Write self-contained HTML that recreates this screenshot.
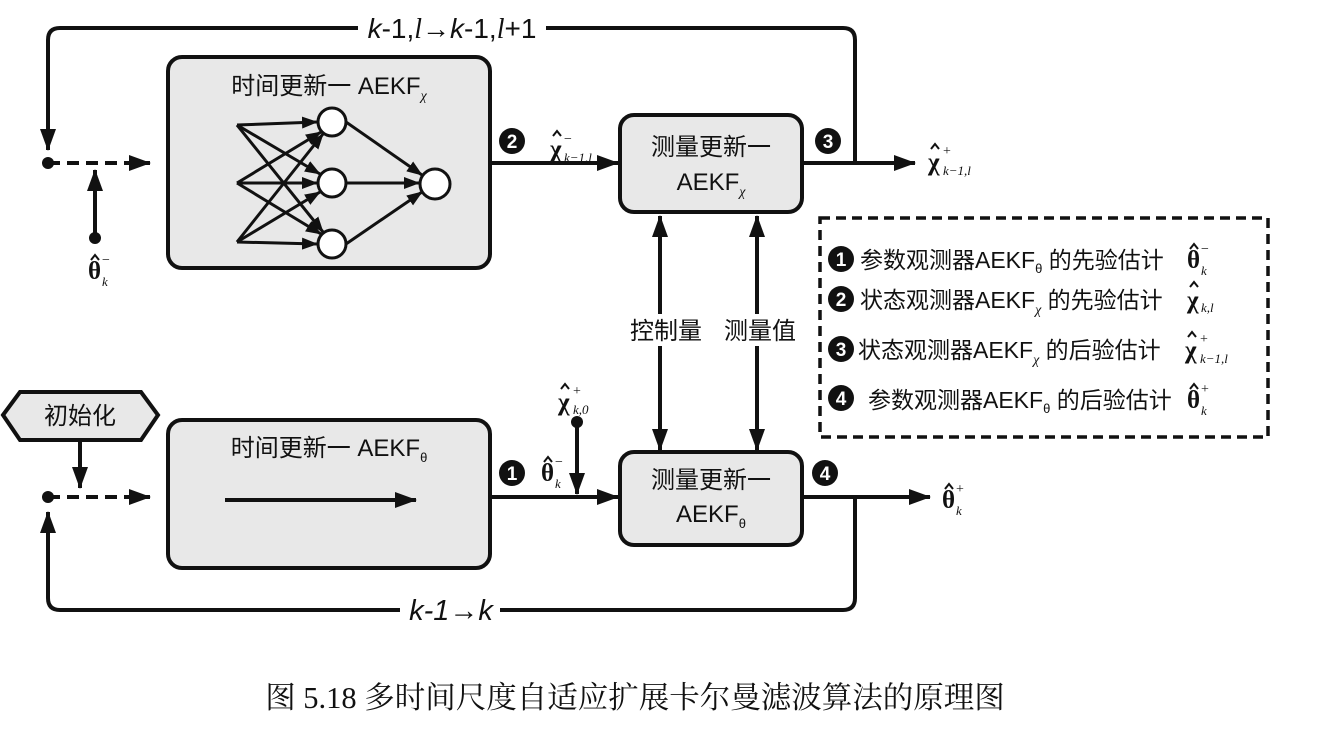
<!DOCTYPE html><html><head><meta charset="utf-8"><style>body{margin:0;background:#fff}svg{display:block}
text{font-family:"Liberation Sans","Noto Sans CJK SC",sans-serif;fill:#111}
.m{font-family:"Liberation Serif",serif;font-weight:bold;font-size:25px}
.s{font-family:"Liberation Serif",serif;font-style:italic;font-size:13px}
.p{font-family:"Liberation Serif",serif;font-size:14px}
</style></head><body>
<svg width="1329" height="730" viewBox="0 0 1329 730" xmlns="http://www.w3.org/2000/svg">
<defs>
<marker id="b" markerWidth="22" markerHeight="16" refX="21" refY="8" orient="auto-start-reverse" markerUnits="userSpaceOnUse" viewBox="0 0 22 16"><path d="M0,0L22,8L0,16z" fill="#111"/></marker>
<marker id="c" markerWidth="16" markerHeight="12" refX="15" refY="6" orient="auto" markerUnits="userSpaceOnUse" viewBox="0 0 16 12"><path d="M0,0L16,6L0,12z" fill="#111"/></marker></defs>
<g stroke="#111" stroke-width="4" fill="none">
<path d="M855,163V40Q855,28 843,28H60Q48,28 48,40V150" marker-end="url(#b)"/>
<path d="M855,497V598Q855,610 843,610H60Q48,610 48,598V512" marker-end="url(#b)"/>
<path d="M48,163H150" stroke-dasharray="12,7" marker-end="url(#b)"/>
<path d="M48,497H150" stroke-dasharray="12,7" marker-end="url(#b)"/>
<path d="M95,238V170" marker-end="url(#b)"/>
<path d="M490,163H618" marker-end="url(#b)"/>
<path d="M802,163H915" marker-end="url(#b)"/>
<path d="M490,497H618" marker-end="url(#b)"/>
<path d="M802,497H930" marker-end="url(#b)"/>
<path d="M577,422V494" marker-end="url(#b)"/>
<path d="M80,440V488" marker-end="url(#b)"/>
<path d="M660,216V450" marker-start="url(#b)" marker-end="url(#b)"/>
<path d="M757,216V450" marker-start="url(#b)" marker-end="url(#b)"/>
<rect x="168" y="57" width="322" height="211" rx="14" fill="#e8e8e8"/>
<rect x="168" y="420" width="322" height="148" rx="14" fill="#e8e8e8"/>
<rect x="620" y="115" width="182" height="97" rx="14" fill="#e8e8e8"/>
<rect x="620" y="452" width="182" height="93" rx="14" fill="#e8e8e8"/>
<path d="M3,415L20,392H141L158,415L141,440H20Z" fill="#e8e8e8"/>
<path d="M225,500H416" marker-end="url(#b)"/>
<rect x="820" y="218" width="448" height="219" stroke-dasharray="10,6" stroke-width="3.5"/>
</g>
<g stroke="#111" stroke-width="3" fill="none" marker-end="url(#c)">
<path d="M237,125L317,122"/><path d="M237,125L320,174"/><path d="M237,125L323,232"/>
<path d="M237,183L321,132"/><path d="M237,183L317,183"/><path d="M237,183L321,234"/>
<path d="M237,242L323,134"/><path d="M237,242L320,192"/><path d="M237,242L317,244"/>
<path d="M346,122L422,175"/><path d="M346,183L419,183"/><path d="M346,244L422,192"/>
</g>
<g stroke="#111" stroke-width="3" fill="#fff">
<circle cx="332" cy="122" r="14"/><circle cx="332" cy="183" r="14"/><circle cx="332" cy="244" r="14"/><circle cx="435" cy="184" r="15"/>
</g>
<g fill="#111"><circle cx="48" cy="163" r="6"/><circle cx="48" cy="497" r="6"/><circle cx="95" cy="238" r="6"/><circle cx="577" cy="422" r="6"/>
<circle cx="512" cy="141" r="13"/><circle cx="828" cy="141" r="13"/><circle cx="512" cy="473" r="13"/><circle cx="825" cy="473" r="13"/>
<circle cx="841" cy="259" r="13"/><circle cx="841" cy="299" r="13"/><circle cx="841" cy="349" r="13"/><circle cx="841" cy="398" r="13"/></g>
<g font-size="19" font-weight="bold" text-anchor="middle"><text x="512" y="148" style="fill:#fff">2</text><text x="828" y="148" style="fill:#fff">3</text><text x="512" y="480" style="fill:#fff">1</text><text x="825" y="480" style="fill:#fff">4</text>
<text x="841" y="266" style="fill:#fff">1</text><text x="841" y="306" style="fill:#fff">2</text><text x="841" y="356" style="fill:#fff">3</text><text x="841" y="405" style="fill:#fff">4</text></g>
<rect x="358" y="14" width="188" height="28" fill="#fff"/>
<text x="452" y="38" font-size="28" text-anchor="middle"><tspan font-style="italic">k</tspan>-1,<tspan font-style="italic" font-family="Liberation Serif">l</tspan>→<tspan font-style="italic">k</tspan>-1,<tspan font-style="italic" font-family="Liberation Serif">l</tspan>+1</text>
<rect x="400" y="596" width="100" height="28" fill="#fff"/>
<text x="451" y="620" font-size="29" text-anchor="middle" font-style="italic">k-1→k</text>
<g font-size="24" text-anchor="middle">
<text x="329" y="94">时间更新一 AEKF<tspan font-size="14" dy="6" font-family="Liberation Serif" font-style="italic">χ</tspan></text>
<text x="329" y="456">时间更新一 AEKF<tspan font-size="13" dy="6">θ</tspan></text>
<text x="711" y="155">测量更新一</text><text x="711" y="190">AEKF<tspan font-size="14" dy="6" font-family="Liberation Serif" font-style="italic">χ</tspan></text>
<text x="711" y="488">测量更新一</text><text x="711" y="522">AEKF<tspan font-size="13" dy="6">θ</tspan></text>
<text x="80" y="424">初始化</text>
<rect x="620" y="314" width="180" height="32" fill="#fff"/>
<text x="666" y="339">控制量</text><text x="760" y="339">测量值</text>
</g>
<g>
<text class="m" x="550" y="157">χ</text><text class="p" x="564" y="143">−</text><text class="s" x="564" y="162">k−1,l</text>
<text class="m" x="928" y="170">χ</text><text class="p" x="943" y="155">+</text><text class="s" x="943" y="175">k−1,l</text>
<text class="m" x="88" y="279">θ</text><text class="p" x="102" y="264">−</text><text class="s" x="102" y="286">k</text>
<text class="m" x="541" y="481">θ</text><text class="p" x="555" y="466">−</text><text class="s" x="555" y="488">k</text>
<text class="m" x="558" y="410">χ</text><text class="p" x="573" y="395">+</text><text class="s" x="573" y="414">k,0</text>
<text class="m" x="942" y="508">θ</text><text class="p" x="956" y="493">+</text><text class="s" x="956" y="515">k</text>
<text class="m" x="1187" y="268">θ</text><text class="p" x="1201" y="253">−</text><text class="s" x="1201" y="275">k</text>
<text class="m" x="1187" y="308">χ</text><text class="s" x="1201" y="312">k,l</text>
<text class="m" x="1185" y="358">χ</text><text class="p" x="1200" y="343">+</text><text class="s" x="1200" y="363">k−1,l</text>
<text class="m" x="1187" y="408">θ</text><text class="p" x="1201" y="393">+</text><text class="s" x="1201" y="415">k</text>
</g>
<g stroke="#111" stroke-width="2" fill="none">
<path d="M553,136L557,131L561,136"/><path d="M931,149L935,144L939,149"/><path d="M91,260L95,255L99,260"/><path d="M544,462L548,457L552,462"/><path d="M561,389L565,384L569,389"/><path d="M945,489L949,484L953,489"/>
<path d="M1190,249L1194,244L1198,249"/><path d="M1190,287L1194,282L1198,287"/><path d="M1188,337L1192,332L1196,337"/><path d="M1190,389L1194,384L1198,389"/>
</g>
<g font-size="23">
<text x="860" y="268">参数观测器AEKF<tspan font-size="13" dy="5">θ</tspan><tspan dy="-5"> 的先验估计</tspan></text>
<text x="860" y="308">状态观测器AEKF<tspan font-size="14" dy="6" font-family="Liberation Serif" font-style="italic">χ</tspan><tspan dy="-6"> 的先验估计</tspan></text>
<text x="858" y="358">状态观测器AEKF<tspan font-size="14" dy="6" font-family="Liberation Serif" font-style="italic">χ</tspan><tspan dy="-6"> 的后验估计</tspan></text>
<text x="868" y="408">参数观测器AEKF<tspan font-size="13" dy="5">θ</tspan><tspan dy="-5"> 的后验估计</tspan></text>
</g>
<text x="635" y="708" font-size="30.5" text-anchor="middle" style="font-family:'Liberation Serif','Noto Serif CJK SC',serif">图 5.18 多时间尺度自适应扩展卡尔曼滤波算法的原理图</text>
</svg></body></html>
